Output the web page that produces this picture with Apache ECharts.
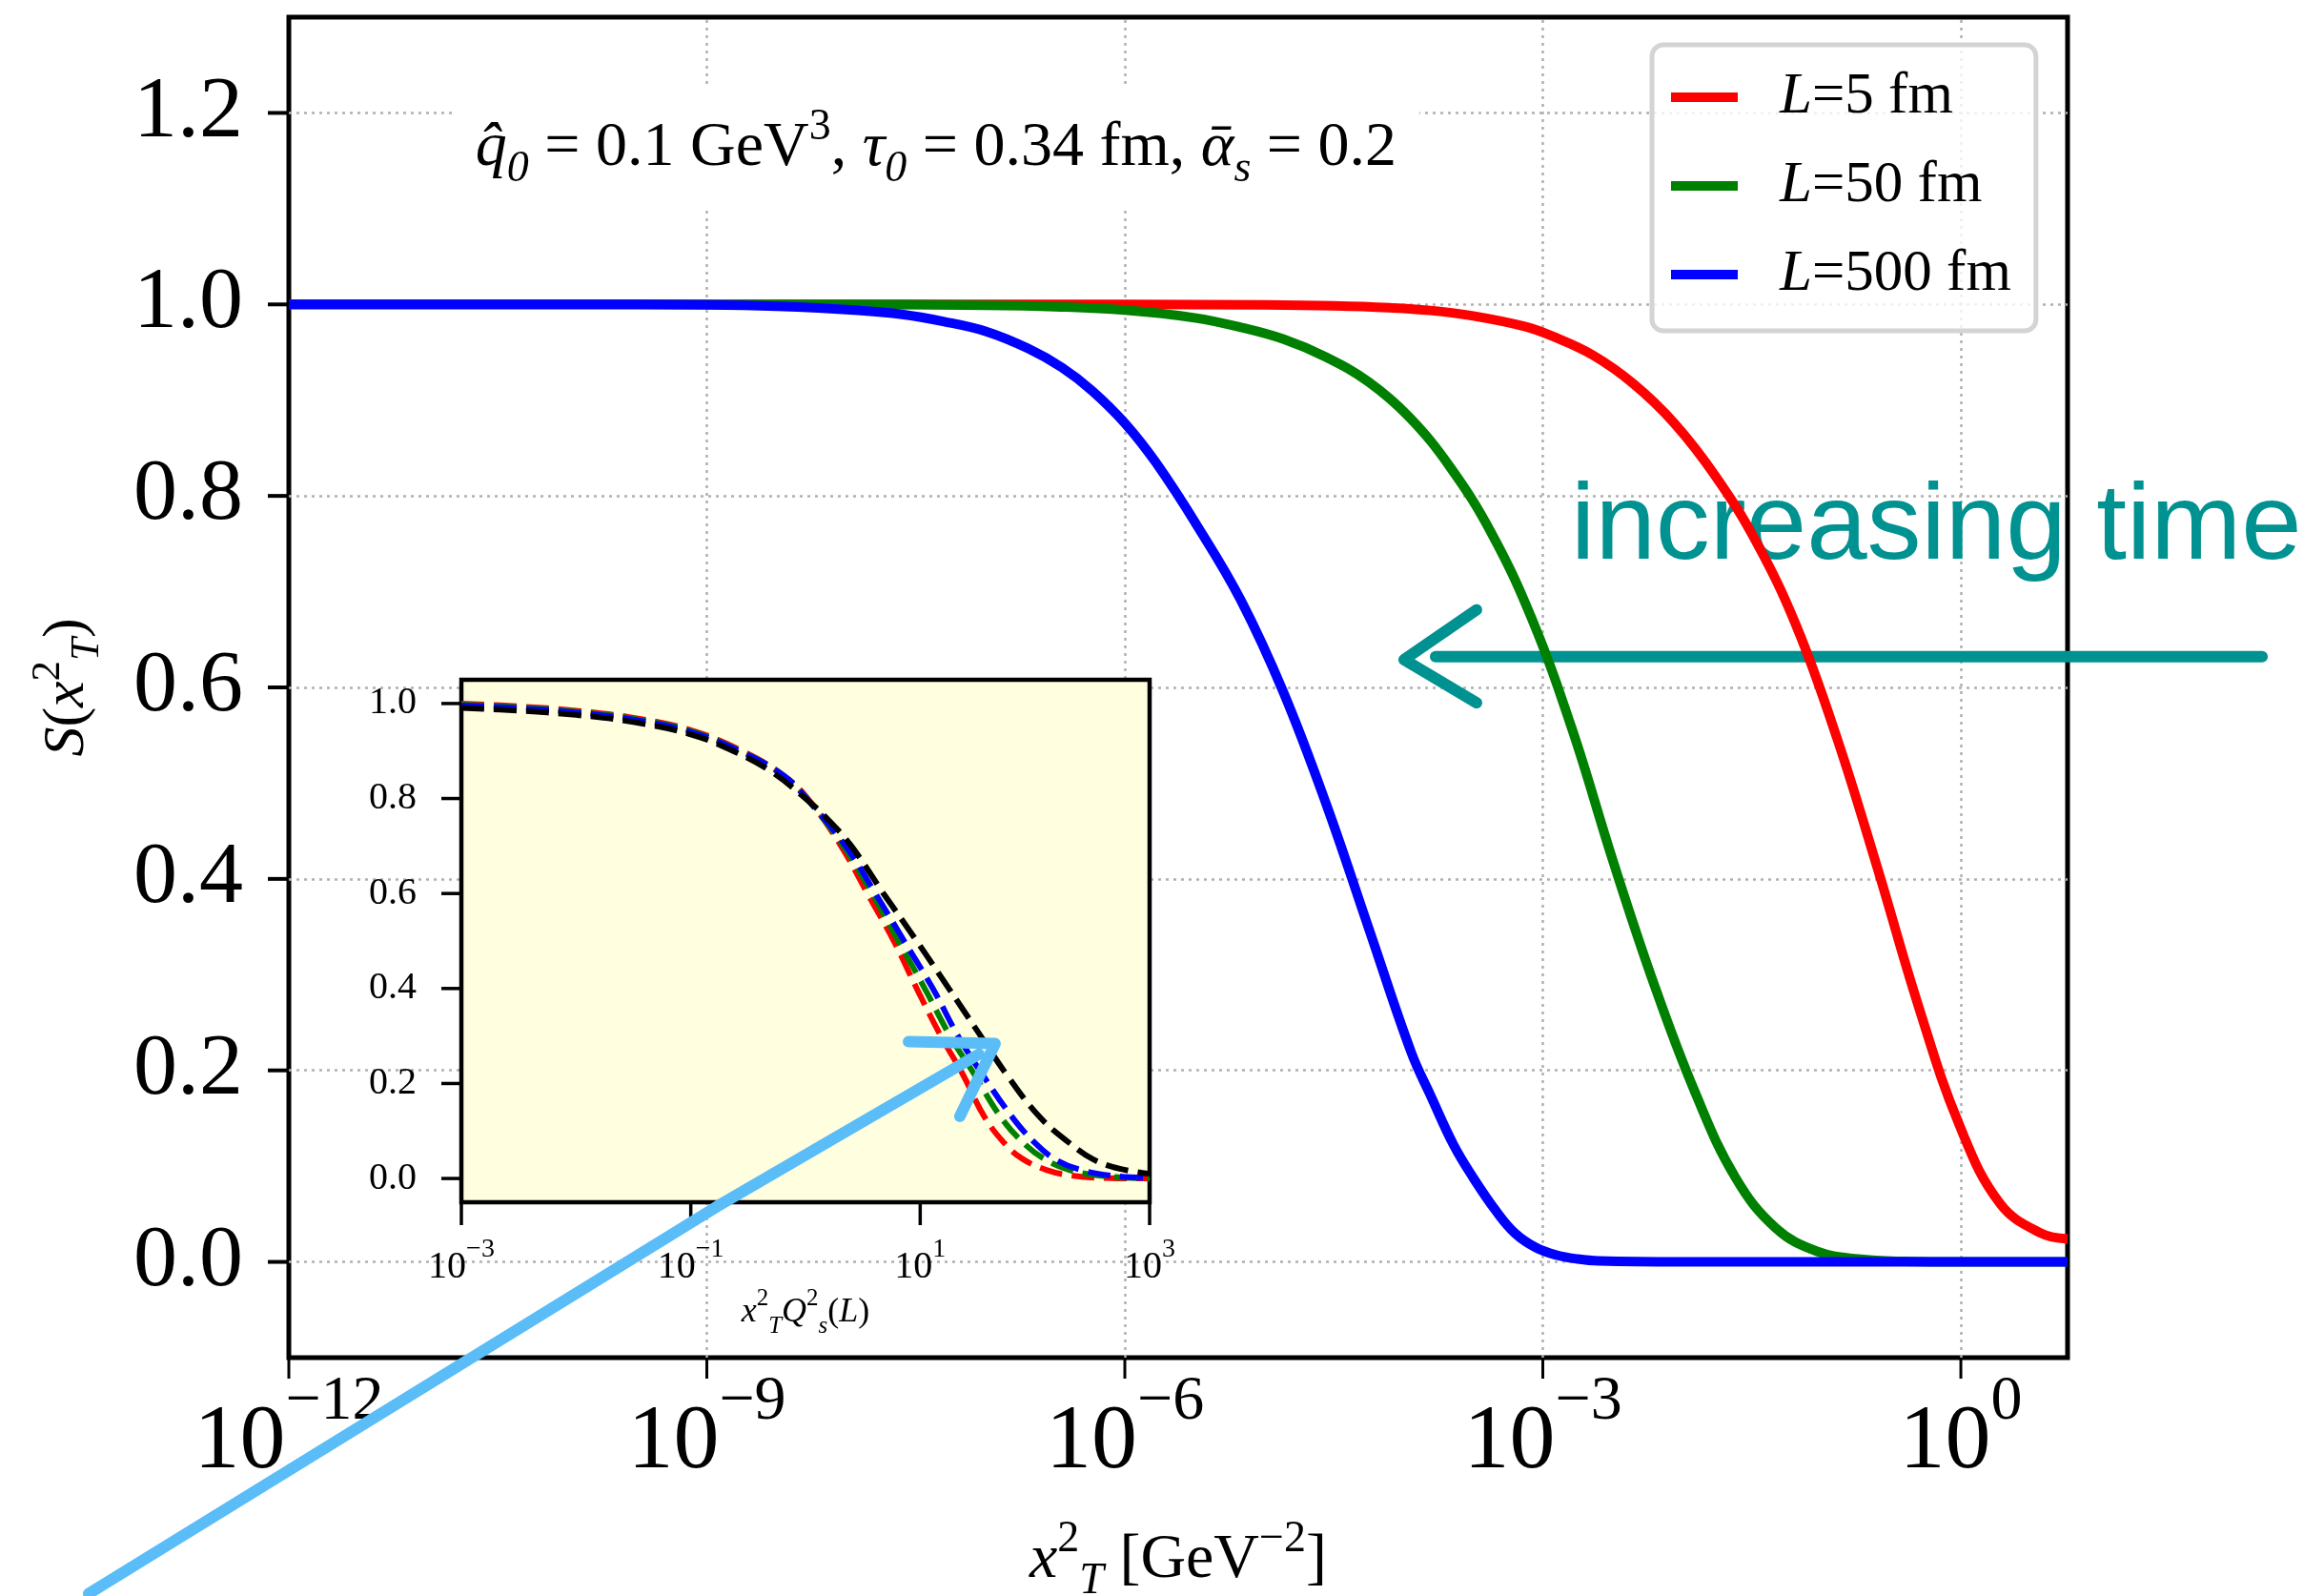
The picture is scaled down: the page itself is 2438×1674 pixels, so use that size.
<!DOCTYPE html>
<html><head><meta charset="utf-8">
<script src="https://cdn.jsdelivr.net/npm/echarts@6/dist/echarts.min.js"></script>
<style>html,body{margin:0;padding:0;background:#fff}#c{width:2438px;height:1674px}</style>
</head><body><div id="c"></div>
<script>
// ---------- data (x stored as log10 of x_T^2) ----------
const seriesNames = ['L=5 fm', 'L=50 fm', 'L=500 fm'];
const mainXTickExps = [-12, -9, -6, -3, 0];
const mainYTicks = [0, 0.2, 0.4, 0.6, 0.8, 1.0, 1.2];
const insetXTickExps = [-3, -1, 1, 3];
const insetYTicks = [0, 0.2, 0.4, 0.6, 0.8, 1.0];

const redLogX = [-12, -9, -6, -5, -4.5, -4.1, -3.81, -3.5, -3.13, -2.935, -2.641, -2.349, -2.057, -1.765, -1.472, -1.18, -0.889, -0.596, -0.304, -0.011, 0.281, 0.574, 0.766];
const redS    = [1.0, 1.0, 1.0, 0.9995, 0.9985, 0.9965, 0.9937, 0.988, 0.977, 0.967, 0.947, 0.917, 0.876, 0.8215, 0.753, 0.664, 0.547, 0.41, 0.267, 0.143, 0.061, 0.030, 0.024];

const greenLogX = [-12, -9, -8, -7, -6.5, -6.0, -5.5, -5.167, -4.86, -4.557, -4.25, -3.957, -3.665, -3.372, -3.08, -2.787, -2.495, -2.202, -1.91, -1.617, -1.325, -1.032, -0.74, -0.4, 0, 0.766];
const greenS    = [1.0, 1.0, 1.0, 0.9991, 0.9976, 0.994, 0.986, 0.976, 0.9636, 0.945, 0.919, 0.882, 0.83, 0.762, 0.672, 0.555, 0.418, 0.29, 0.178, 0.088, 0.035, 0.011, 0.003, 0.0005, 0.0, 0.0];

const blueLogX = [-12, -10, -9, -8.5, -7.916, -7.6, -7.305, -7.0, -6.694, -6.45, -6.236, -6.0, -5.778, -5.473, -5.167, -4.862, -4.557, -4.251, -3.945, -3.8, -3.64, -3.5, -3.335, -3.2, -3.05, -2.9, -2.75, -2.6, -2, -1, 0, 0.766];
const blueS    = [1.0, 1.0, 0.9995, 0.998, 0.9938, 0.9896, 0.9823, 0.972, 0.954, 0.934, 0.910, 0.876, 0.835, 0.767, 0.691, 0.595, 0.479, 0.349, 0.219, 0.172, 0.122, 0.088, 0.053, 0.03, 0.015, 0.007, 0.003, 0.001, 0, 0, 0, 0];

// inset: x = log10(x_T^2 Q_s^2(L))
const insetRedLogX = [-3, -2.5, -2, -1.5, -1, -0.55, -0.2, 0.02, 0.31, 0.54, 0.77, 0.97, 1.18, 1.37, 1.56, 1.75, 1.9, 2.1, 2.3, 2.6, 3];
const insetRedS    = [1.0, 0.994, 0.985, 0.97, 0.944, 0.9, 0.85, 0.8, 0.7, 0.6, 0.5, 0.4, 0.3, 0.22, 0.13, 0.07, 0.04, 0.018, 0.007, 0.001, 0];
const insetGreenLogX = [-3, -2.5, -2, -1.5, -1, -0.57, -0.2, 0.01, 0.33, 0.58, 0.81, 1.04, 1.26, 1.47, 1.7, 1.9, 2.09, 2.3, 2.6, 3];
const insetGreenS    = [0.998, 0.992, 0.983, 0.968, 0.942, 0.9, 0.85, 0.8, 0.7, 0.6, 0.5, 0.4, 0.3, 0.22, 0.13, 0.075, 0.04, 0.018, 0.005, 0];
const insetBlueLogX = [-3, -2.5, -2, -1.5, -1, -0.58, -0.2, 0.01, 0.35, 0.61, 0.86, 1.11, 1.33, 1.54, 1.8, 2.0, 2.18, 2.4, 2.7, 3];
const insetBlueS    = [0.996, 0.99, 0.981, 0.966, 0.94, 0.9, 0.85, 0.8, 0.7, 0.6, 0.5, 0.4, 0.3, 0.22, 0.13, 0.075, 0.04, 0.018, 0.005, 0.001];
const insetBlackLogX = [-3, -2.5, -2, -1.5, -1, -0.63, -0.3, 0, 0.2, 0.4, 0.68, 0.97, 1.25, 1.5, 1.75, 2.04, 2.3, 2.51, 2.75, 3];
const insetBlackS    = [0.991, 0.985, 0.976, 0.961, 0.935, 0.9, 0.857, 0.8, 0.755, 0.70, 0.6, 0.5, 0.4, 0.31, 0.22, 0.13, 0.075, 0.04, 0.02, 0.01];

// annotations, in main-axis data coordinates (log10 x, S)
const paramTextAnchor = [-7.355, 1.163];
const timeTextAnchor = [-2.798, 0.766];
const tealShaft = [[-3.77, 0.632], [2.162, 0.632]];
const tealHead = [[-3.476, 0.681], [-3.996, 0.629], [-3.476, 0.584]];
const blueArrowShaft = [[-13.437, -0.3465], [-8.928, 0.0578], [-7.047, 0.217]];
const blueArrowHead = [[-7.553, 0.230], [-6.931, 0.228], [-7.184, 0.152]];

// ---------- chart ----------
const SERIF = 'Liberation Serif';
const MAIN_X = [-12, 0.766], MAIN_Y = [-0.1, 1.3], INSET_X = [-3, 3], INSET_Y = [-0.05, 1.05];
const pairs = (xs, ys) => xs.map((x, i) => [x, ys[i]]);
const expLabel = v => { const e = Math.round(v); return '{b|10}{s|' + (e < 0 ? '\u2212' + (-e) : String(e)) + '}'; };
const decLabel = v => (Math.abs(v) < 1e-9 ? 0 : v).toFixed(1);
const f = (size, extra) => Object.assign({fontFamily: SERIF, fontSize: size, color: '#000'}, extra || {});

// tick marks drawn through the axes' scales (custom series)
function tickSeries(xi, yi, pts, dir, len, width, zl) {
  return {
    type: 'custom', xAxisIndex: xi, yAxisIndex: yi, data: pts, clip: false, silent: true,
    zlevel: zl, z: 6, animation: false,
    renderItem: (params, api) => {
      const p = api.coord([api.value(0), api.value(1)]);
      const q = dir === 'down' ? [p[0], p[1] + len] : [p[0] - len, p[1]];
      return {type: 'line', shape: {x1: p[0], y1: p[1], x2: q[0], y2: q[1]}, style: {stroke: '#000', lineWidth: width}};
    }
  };
}

const chart = echarts.init(document.getElementById('c'), null, {renderer: 'canvas'});

const gridColor = '#b0b0b0';
const lineOpts = {showSymbol: false, symbol: 'none', smooth: 0.4};
const option = {
  animation: false,
  backgroundColor: '#fff',
  grid: [
    {left: 303, top: 18, width: 1866, height: 1406, containLabel: false, outerBoundsMode: 'none', show: true, borderColor: '#000', borderWidth: 5, backgroundColor: 'transparent'},
    {left: 484, top: 713, width: 722, height: 548, containLabel: false, outerBoundsMode: 'none', show: true, borderColor: '#000', borderWidth: 4.5, backgroundColor: '#ffffe0', zlevel: 1}
  ],
  xAxis: [
    {
      type: 'value', gridIndex: 0, min: MAIN_X[0], max: MAIN_X[1],
      axisLine: {show: false}, splitLine: {show: false}, axisTick: {show: false},
      axisLabel: {customValues: mainXTickExps, margin: 14, formatter: expLabel,
        rich: {b: f(96, {lineHeight: 124, verticalAlign: 'bottom'}), s: f(66, {lineHeight: 66, verticalAlign: 'top'})}},
      name: '{it|x}{sup|2}{sub|T}{n| [GeV}{sup|\u22122}{n|]}', nameLocation: 'middle', nameGap: 168,
      nameTextStyle: {rich: {
        n: f(66, {lineHeight: 90}), it: f(66, {fontStyle: 'italic', lineHeight: 90}),
        sup: f(46, {lineHeight: 46, verticalAlign: 'top'}), sub: f(46, {fontStyle: 'italic', lineHeight: 46, verticalAlign: 'bottom'})}}
    },
    {
      type: 'value', gridIndex: 1, min: INSET_X[0], max: INSET_X[1], zlevel: 1,
      axisLine: {show: false}, splitLine: {show: false}, axisTick: {show: false},
      axisLabel: {customValues: insetXTickExps, margin: 36, formatter: expLabel,
        rich: {b: f(40, {lineHeight: 52, verticalAlign: 'bottom'}), s: f(28, {lineHeight: 28, verticalAlign: 'top'})}},
      name: '{it|x}{sup|2}{sub|T}{it|Q}{sup|2}{sub|s}{n|(}{it|L}{n|)}', nameLocation: 'middle', nameGap: 87,
      nameTextStyle: {rich: {
        n: f(36, {lineHeight: 54}), it: f(36, {fontStyle: 'italic', lineHeight: 54}),
        sup: f(25, {lineHeight: 25, verticalAlign: 'top'}), sub: f(25, {fontStyle: 'italic', lineHeight: 25, verticalAlign: 'bottom'})}}
    }
  ],
  yAxis: [
    {
      type: 'value', gridIndex: 0, min: MAIN_Y[0], max: MAIN_Y[1],
      axisLine: {show: false}, splitLine: {show: false}, axisTick: {show: false},
      axisLabel: {customValues: mainYTicks, margin: 48, formatter: decLabel, fontFamily: SERIF, fontSize: 92, color: '#000'},
      name: '{it|S}{n|(}{it|x}{sup|2}{sub|T}{n|)}', nameLocation: 'middle', nameRotate: 90, nameGap: 190,
      nameTextStyle: {rich: {
        n: f(62, {lineHeight: 84}), it: f(62, {fontStyle: 'italic', lineHeight: 84}),
        sup: f(43, {lineHeight: 43, verticalAlign: 'top'}), sub: f(43, {fontStyle: 'italic', lineHeight: 43, verticalAlign: 'bottom'})}}
    },
    {
      type: 'value', gridIndex: 1, min: INSET_Y[0], max: INSET_Y[1], zlevel: 1,
      axisLine: {show: false}, splitLine: {show: false}, axisTick: {show: false},
      axisLabel: {customValues: insetYTicks, margin: 47, formatter: decLabel, fontFamily: SERIF, fontSize: 40, color: '#000'}
    }
  ],
  legend: {
    data: seriesNames, orient: 'vertical', left: 1733, top: 47,
    padding: [20, 26, 24, 20], itemGap: 23, itemWidth: 70, itemHeight: 10, icon: 'rect',
    backgroundColor: 'rgba(255,255,255,0.8)', borderColor: '#d4d4d4', borderWidth: 5, borderRadius: 12,
    textStyle: {fontFamily: SERIF, fontSize: 61, color: '#000', lineHeight: 70,
      rich: {pad: {width: 39, lineHeight: 70}, it: f(61, {fontStyle: 'italic', lineHeight: 70}), n: f(61, {lineHeight: 70})}},
    formatter: name => '{pad|}{it|L}{n|' + name.slice(1) + '}'
  },
  series: [
    {
      type: 'line', name: 'grid', xAxisIndex: 0, yAxisIndex: 0, data: [], z: 1, silent: true,
      markLine: {
        silent: true, symbol: ['none', 'none'], z: 1, animation: false, label: {show: false},
        lineStyle: {color: gridColor, type: [3, 5], width: 2.5},
        emphasis: {disabled: true},
        data: mainYTicks.map(v => ({yAxis: v})).concat(mainXTickExps.slice(1).map(v => ({xAxis: v})))
      }
    },
    Object.assign({type: 'line', name: seriesNames[0], xAxisIndex: 0, yAxisIndex: 0, data: pairs(redLogX, redS), z: 3, lineStyle: {color: '#ff0000', width: 10}, itemStyle: {color: '#ff0000'}}, lineOpts),
    Object.assign({type: 'line', name: seriesNames[1], xAxisIndex: 0, yAxisIndex: 0, data: pairs(greenLogX, greenS), z: 3, lineStyle: {color: '#008000', width: 10}, itemStyle: {color: '#008000'}}, lineOpts),
    Object.assign({type: 'line', name: seriesNames[2], xAxisIndex: 0, yAxisIndex: 0, data: pairs(blueLogX, blueS), z: 3, lineStyle: {color: '#0000ff', width: 10}, itemStyle: {color: '#0000ff'}}, lineOpts),
    Object.assign({type: 'line', name: 'inset red', xAxisIndex: 1, yAxisIndex: 1, zlevel: 1, z: 3, data: pairs(insetRedLogX, insetRedS), lineStyle: {color: '#ff0000', width: 6, type: [24, 10]}}, lineOpts),
    Object.assign({type: 'line', name: 'inset green', xAxisIndex: 1, yAxisIndex: 1, zlevel: 1, z: 3, data: pairs(insetGreenLogX, insetGreenS), lineStyle: {color: '#008000', width: 6, type: [24, 10]}}, lineOpts),
    Object.assign({type: 'line', name: 'inset blue', xAxisIndex: 1, yAxisIndex: 1, zlevel: 1, z: 3, data: pairs(insetBlueLogX, insetBlueS), lineStyle: {color: '#0000ff', width: 6, type: [24, 10]}}, lineOpts),
    Object.assign({type: 'line', name: 'inset black', xAxisIndex: 1, yAxisIndex: 1, zlevel: 1, z: 3, data: pairs(insetBlackLogX, insetBlackS), lineStyle: {color: '#000000', width: 6, type: [24, 10]}}, lineOpts),
    tickSeries(0, 0, mainXTickExps.map(v => [v, MAIN_Y[0]]), 'down', 22, 3, 0),
    tickSeries(0, 0, mainYTicks.map(v => [MAIN_X[0], v]), 'left', 22, 4, 0),
    tickSeries(1, 1, insetXTickExps.map(v => [v, INSET_Y[0]]), 'down', 24, 3.5, 1),
    tickSeries(1, 1, insetYTicks.map(v => [INSET_X[0], v]), 'left', 21, 3.5, 1)
  ]
};
chart.setOption(option);

// ---------- annotations ----------
const px = p => chart.convertToPixel({gridIndex: 0}, p);
const graphics = [];
function sketch(dataPts, color, w, zl, z) {
  const pts = dataPts.map(px);
  const offs = [[0, 0, w, 1], [1.8, -1.6, w * 0.5, 0.75], [-1.6, 1.8, w * 0.5, 0.75]];
  offs.forEach(o => graphics.push({
    type: 'polyline', zlevel: zl, z: z, silent: true,
    shape: {points: pts.map(p => [p[0] + o[0], p[1] + o[1]])},
    style: {stroke: color, lineWidth: o[2], fill: null, lineCap: 'round', lineJoin: 'round', opacity: o[3]}
  }));
}
const teal = '#009191';
sketch(tealShaft, teal, 12, 0, 2);
sketch(tealHead, teal, 12, 0, 2);
const skyBlue = '#5bbdf7';
sketch(blueArrowShaft, skyBlue, 12, 2, 10);
sketch(blueArrowHead, skyBlue, 12, 2, 10);

const pp = px(paramTextAnchor);
const tr = (size, extra) => Object.assign({fontFamily: SERIF, fontSize: size, fill: '#000'}, extra || {});
graphics.push({
  type: 'text', zlevel: 0, z: 4, silent: true, x: pp[0], y: pp[1],
  style: {
    text: '{it|q\u0302}{sub|0}{n| = 0.1 GeV}{sup|3}{n|, }{it|\u03c4}{sub|0}{n| = 0.34 fm, }{it|\u1fb1}{sub|s}{n| = 0.2}',
    align: 'center', verticalAlign: 'middle', backgroundColor: '#fff', padding: [18, 24, 18, 24],
    rich: {
      n: tr(66, {lineHeight: 90}), it: tr(66, {fontStyle: 'italic', lineHeight: 90}),
      sub: tr(46, {fontStyle: 'italic', lineHeight: 46, verticalAlign: 'bottom'}), sup: tr(46, {lineHeight: 46, verticalAlign: 'top'})
    }
  }
});
const tp = px(timeTextAnchor);
graphics.push({
  type: 'text', zlevel: 0, z: 2, silent: true, x: tp[0], y: tp[1],
  style: {text: 'increasing time', fontFamily: 'Liberation Sans', fontSize: 114, fill: teal, align: 'left', verticalAlign: 'middle'}
});
chart.setOption({graphic: graphics});
</script>
</body></html>
